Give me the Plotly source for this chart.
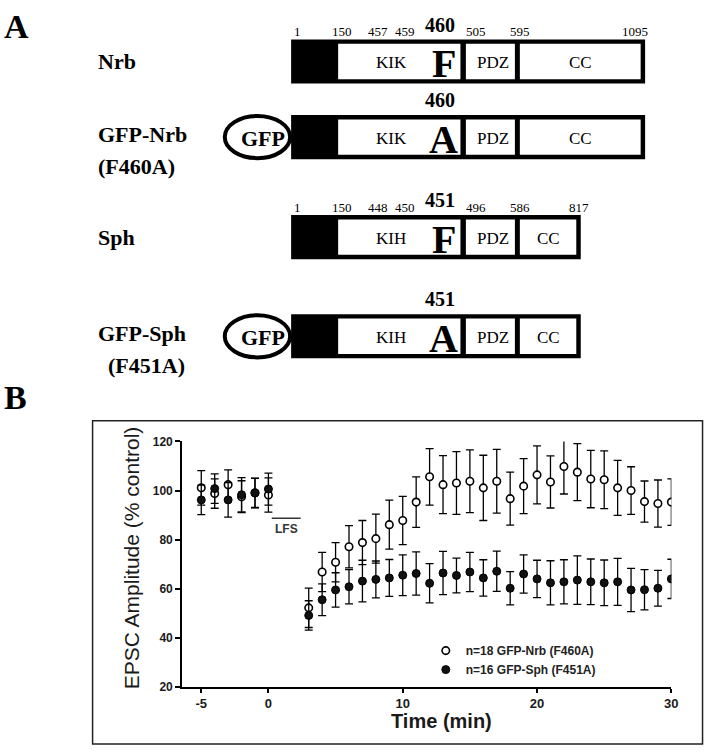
import plotly.graph_objects as go

# ---------------- Panel B data ----------------
time_min = [-5, -4, -3, -2, -1, 0,
            3, 4, 5, 6, 7, 8, 9, 10, 11, 12, 13, 14, 15, 16, 17, 18, 19, 20,
            21, 22, 23, 24, 25, 26, 27, 28, 29, 30]
nrb_mean = [101.1, 98.8, 102.4, 97.5, 99.1, 98.2,
            52.2, 66.8, 70.8, 77.1, 78.8, 80.4, 86.1, 87.8, 95.3, 105.6, 102.4, 103.1,
            103.8, 101.1, 103.8, 96.7, 101.8, 106.4, 103.5, 109.8, 107.5, 104.7, 104.4,
            101.1, 100.0, 95.5, 94.7, 95.3]
nrb_sem = [7.0, 6.0, 6.0, 6.5, 6.0, 7.0,
           8.0, 8.0, 8.0, 8.6, 9.0, 10.0, 10.0, 9.8, 10.3, 11.5, 11.8, 12.8,
           12.8, 13.3, 13.0, 10.8, 11.2, 11.8, 10.6, 11.2, 11.6, 11.7, 11.8,
           11.2, 9.7, 8.4, 9.6, 9.5]
sph_mean = [96.2, 100.8, 96.2, 98.3, 99.0, 100.6,
            49.1, 55.5, 59.5, 60.8, 63.1, 63.8, 64.4, 65.5, 66.2, 62.2, 66.4, 65.4,
            66.8, 64.4, 67.1, 60.2, 66.0, 64.0, 62.4, 62.8, 63.5, 62.8, 62.4,
            62.8, 59.5, 59.6, 60.2, 64.0]
sph_sem = [6.0, 6.0, 7.0, 7.0, 6.0, 6.5,
           6.0, 6.5, 7.0, 7.0, 8.5, 7.5, 7.5, 8.3, 8.8, 8.0, 8.8, 7.1,
           8.0, 7.4, 8.2, 6.8, 7.8, 7.6, 9.0, 9.0, 9.9, 9.3, 9.3,
           9.6, 8.8, 8.2, 7.3, 8.0]
series_names = ["n=18 GFP-Nrb (F460A)", "n=16 GFP-Sph (F451A)"]
x_ticks = [-5, 0, 10, 20, 30]
x_tick_labels = ["-5", "0", "10", "20", "30"]
y_ticks = [20, 40, 60, 80, 100, 120]
lfs_window = [0.25, 2.4]
lfs_label = "LFS"

# ---------------- Panel A data ----------------
construct_names = ["Nrb", "GFP-Nrb", "Sph", "GFP-Sph"]
construct_sub = ["", "(F460A)", "", "(F451A)"]
has_gfp = [False, True, False, True]
key_residue = ["460", "460", "451", "451"]
residue_letter = ["F", "A", "F", "A"]
motif_name = ["KIK", "KIK", "KIH", "KIH"]
domain_names = ["PDZ", "CC"]
nrb_boundaries = ["1", "150", "457", "459", "505", "595", "1095"]
sph_boundaries = ["1", "150", "448", "450", "496", "586", "817"]

W, H = 714, 755


def px(x):
    return x / W


def py(y):
    return 1 - y / H


SERIF = "Liberation Serif"
SANS = "Liberation Sans"
TXT = "#1a1a1a"

fig = go.Figure()

err_style = dict(type="data", color="black", thickness=1.3, width=4)
fig.add_trace(go.Scatter(
    x=time_min, y=nrb_mean, mode="markers", name=series_names[0],
    error_y=dict(array=nrb_sem, **err_style),
    marker=dict(symbol="circle", size=7.5, color="white", line=dict(color="black", width=1.6)),
    xaxis="x", yaxis="y"))
fig.add_trace(go.Scatter(
    x=time_min, y=sph_mean, mode="markers", name=series_names[1],
    error_y=dict(array=sph_sem, **err_style),
    marker=dict(symbol="circle", size=8, color="#111111", line=dict(color="black", width=1)),
    xaxis="x", yaxis="y"))
# empty trace so the schematic coordinate system exists
fig.add_trace(go.Scatter(x=[], y=[], xaxis="x2", yaxis="y2", showlegend=False, hoverinfo="skip"))

shapes = []
annotations = []


def paper_text(x, y, text, font, angle=0):
    annotations.append(dict(xref="paper", yref="paper", x=px(x), y=py(y), text=text,
                            xanchor="center", yanchor="middle", textangle=angle,
                            showarrow=False, font=font))


# ---- frame around panel B
shapes.append(dict(type="rect", xref="paper", yref="paper",
                   x0=px(93.5), x1=px(709.5), y0=py(751), y1=py(421.5),
                   line=dict(color="#222", width=1.5), layer="below"))

# ---- LFS bar
shapes.append(dict(type="line", xref="x", yref="y", x0=lfs_window[0], x1=lfs_window[1],
                   y0=88.7, y1=88.7, line=dict(color="#333", width=1.5)))
annotations.append(dict(xref="x", yref="y", x=sum(lfs_window) / 2, y=84.3, text=lfs_label,
                        xanchor="center", yanchor="middle",
                        showarrow=False, font=dict(family=SANS, size=12, color="#333", weight="bold")))

# ---- axis titles
paper_text(446, 727, "Time (min)", dict(family=SANS, size=20, color=TXT, weight="bold"))
paper_text(133, 561, "EPSC Amplitude (% control)", dict(family=SANS, size=21, color=TXT), angle=-90)

# ---- panel letters
paper_text(17, 20, "A", dict(family=SERIF, size=34, color="black", weight="bold"))
paper_text(16, 398, "B", dict(family=SERIF, size=34, color="black", weight="bold"))

# ---- schematic rows (layout positions in pixel units of the schematic axes)
row_top = [33, 110, 212, 313]
bar_h = 45
border = 4.5
bar_left = 294
black_end = 341
kik_end = 465
pdz_start = 470.5
pdz_end = 520
cc_start = 525
cc_end_long = 647
cc_end_short = 582
num_x = [300, 345, 381.5, 409, 481, 525, 641]
num_x_short = [300, 345, 381.5, 409.5, 481, 525, 585]

for i in range(4):
    top = row_top[i]
    bot = top + bar_h
    cc_end = cc_end_long if i < 2 else cc_end_short
    right = cc_end + border
    cy = top + bar_h / 2
    if has_gfp[i]:
        shapes.append(dict(type="circle", xref="x2", yref="y2", x0=227, x1=293, y0=top + 1, y1=bot - 1,
                           line=dict(color="black", width=4), fillcolor="white"))
        annotations.append(dict(xref="x2", yref="y2", x=266, y=cy + 1, text="GFP", showarrow=False,
                                font=dict(family=SERIF, size=22, color="black", weight="bold")))
    shapes.append(dict(type="rect", xref="x2", yref="y2", x0=bar_left, x1=right, y0=top, y1=bot,
                       line=dict(width=0), fillcolor="black"))
    for (a, b) in [(black_end + 0.5, kik_end), (pdz_start, pdz_end), (cc_start, cc_end)]:
        shapes.append(dict(type="rect", xref="x2", yref="y2", x0=a, x1=b,
                           y0=top + border, y1=bot - border, line=dict(width=0), fillcolor="white"))
    # domain labels
    annotations.append(dict(xref="x2", yref="y2", x=395, y=cy + 1, text=motif_name[i], showarrow=False,
                            font=dict(family=SERIF, size=17, color="black")))
    annotations.append(dict(xref="x2", yref="y2", x=498, y=cy + 1, text=domain_names[0], showarrow=False,
                            font=dict(family=SERIF, size=17, color="black")))
    annotations.append(dict(xref="x2", yref="y2", x=(cc_start + cc_end) / 2, y=cy + 1, text=domain_names[1],
                            showarrow=False, font=dict(family=SERIF, size=17, color="black")))
    annotations.append(dict(xref="x2", yref="y2", x=448, y=cy + 2, text=residue_letter[i], showarrow=False,
                            font=dict(family=SERIF, size=40, color="black", weight="bold")))
    annotations.append(dict(xref="x2", yref="y2", x=444, y=top - 15, text=key_residue[i], showarrow=False,
                            font=dict(family=SERIF, size=20, color="black", weight="bold")))
    if not has_gfp[i]:
        labels = nrb_boundaries if i < 2 else sph_boundaries
        xs = num_x if i < 2 else num_x_short
        for lab, xx in zip(labels, xs):
            annotations.append(dict(xref="x2", yref="y2", x=xx, y=top - 8, text=lab, showarrow=False,
                                    font=dict(family=SERIF, size=13, color="black")))
    # construct names
    if construct_sub[i]:
        annotations.append(dict(xref="x2", yref="y2", x=97, y=cy - 3, xanchor="left",
                                text=construct_names[i], showarrow=False,
                                font=dict(family=SERIF, size=22, color="black", weight="bold")))
        sub_x = 97 if i == 1 else 107
        annotations.append(dict(xref="x2", yref="y2", x=sub_x, y=cy + 30, xanchor="left",
                                text=construct_sub[i], showarrow=False,
                                font=dict(family=SERIF, size=22, color="black", weight="bold")))
    else:
        annotations.append(dict(xref="x2", yref="y2", x=97, y=cy, xanchor="left",
                                text=construct_names[i], showarrow=False,
                                font=dict(family=SERIF, size=22, color="black", weight="bold")))

axis_common = dict(showline=True, linewidth=2, linecolor="black", showgrid=False, zeroline=False,
                   ticks="outside", tickcolor="black", tickwidth=1.5)

fig.update_layout(
    width=W, height=H,
    margin=dict(l=0, r=0, t=0, b=0),
    paper_bgcolor="white", plot_bgcolor="rgba(0,0,0,0)",
    showlegend=True,
    legend=dict(x=px(430), y=py(641), xanchor="left", yanchor="top", bgcolor="rgba(0,0,0,0)",
                font=dict(family=SANS, size=12, color="#222", weight="bold"), tracegroupgap=0),
    xaxis=dict(domain=[px(184), px(678)], range=[-6.42, 30.0], tickvals=x_ticks, ticktext=x_tick_labels,
               ticklen=4, tickfont=dict(family=SANS, size=13, color=TXT, weight="bold"), anchor="y",
               **axis_common),
    yaxis=dict(domain=[py(692.7), py(442.7)], range=[20, 120], tickvals=y_ticks, ticklen=5,
               tickfont=dict(family=SANS, size=12, color=TXT, weight="bold"), anchor="x", **axis_common),
    xaxis2=dict(domain=[0, 1], range=[0, W], visible=False, anchor="y2", fixedrange=True),
    yaxis2=dict(domain=[0, 1], range=[H, 0], visible=False, anchor="x2", fixedrange=True),
    shapes=shapes,
    annotations=annotations,
)

fig.write_html("out.html", config={"displayModeBar": False},
               post_script="document.body.style.margin='0';document.body.style.overflow='hidden';")
